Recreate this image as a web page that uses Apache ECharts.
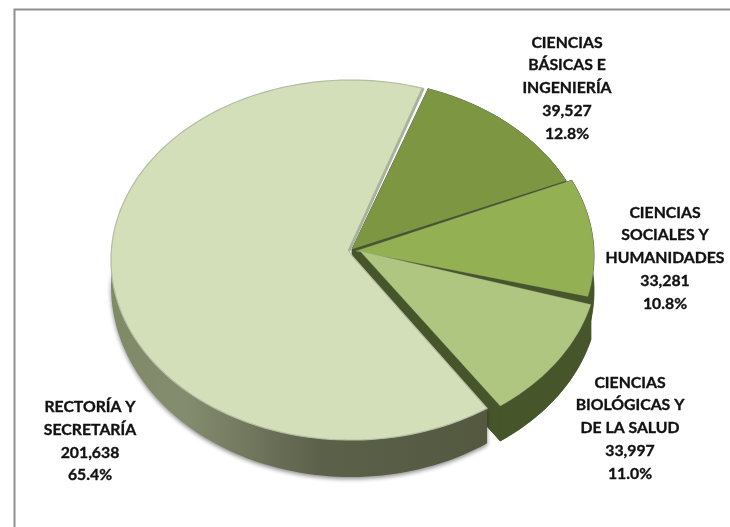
<!DOCTYPE html>
<html><head><meta charset="utf-8">
<style>html,body{margin:0;padding:0;background:#fff}#c{width:730px;height:527px}</style>
<script src="https://cdn.jsdelivr.net/npm/echarts@6/dist/echarts.min.js"></script>
</head><body><div id="c"></div>
<script>
const categories = [['CIENCIAS','BÁSICAS E','INGENIERÍA'],['CIENCIAS','SOCIALES Y','HUMANIDADES'],['CIENCIAS','BIOLÓGICAS Y','DE LA SALUD'],['RECTORÍA Y','SECRETARÍA']];
const values = [39527,33281,33997,201638];
const valueLabels = ['39,527','33,281','33,997','201,638'];
const percentLabels = ['12.8%','10.8%','11.0%','65.4%'];
const topColors = ['#7d9642','#93b053','#aec67f','#d3dfb8'];
const wallColors = ['#46562a','#46562a','#47552a','#5a5f47'];
// layout of the tilted pie (style only)
const centers = [[350,259],[354,256],[358,261],[351,260]];
const apexes = [[[352,249]],[[356,251]],[[360,251]],[[349,251],[353,257]]];
const trimsStart = [0,0,0,1.8];
const trimsEnd = [1.0,1.0,0,1.5];
const labelAnchors = [[567,88],[665,258],[630,428],[90,441]];
const RX=240, RY=180, DEPTH=35, START=19;
const total = values.reduce((a,b)=>a+b,0);
function span(i){let s=START;for(let k=0;k<i;k++)s+=values[k]/total*360;return [s+trimsStart[i],s+values[i]/total*360-trimsEnd[i]];}
function pt(i,deg){const t=deg*Math.PI/180,c=centers[i];return [c[0]+RX*Math.sin(t),c[1]-RY*Math.cos(t)];}
function arc(i,a,b){const n=Math.max(8,Math.ceil(Math.abs(b-a)/2)),o=[];for(let k=0;k<=n;k++)o.push(pt(i,a+(b-a)*k/n));return o;}
const down=p=>[p[0],p[1]+DEPTH];
const idx=values.map((_,i)=>i);
function wallItem(params,api){
  const i=api.value(0),[a,b]=span(i);
  if(i===3){
    const n=70,upper=[],lower=[];
    for(let k=0;k<=n;k++){const d=a+(272-a)*k/n,p=pt(i,d);upper.push(p);lower.unshift([p[0],p[1]+26+11*Math.abs(Math.cos(d*Math.PI/180))]);}
    return {type:'polygon',shape:{points:upper.concat(lower)},style:{
      fill:new echarts.graphic.LinearGradient(0,0,1,0,[{offset:0,color:'#7f8a66'},{offset:.2,color:'#848c6f'},{offset:.55,color:'#5c614a'},{offset:1,color:'#53583f'}],false),
      shadowColor:'rgba(0,0,0,.45)',shadowBlur:4,shadowOffsetY:2}};}
  const ar=arc(i,a,b),ap=apexes[i][0],first=ar[0],last=ar[ar.length-1];
  const faces=[
    [ap].concat(ar),
    [down(ap)].concat(ar.map(down)),
    ar.concat(ar.slice().reverse().map(down)),
    [ap,first,down(first),down(ap)],
    [ap,last,down(last),down(ap)]
  ];
  return {type:'group',children:faces.map(f=>({type:'polygon',shape:{points:f},style:{fill:wallColors[i],stroke:wallColors[i],lineWidth:.5}}))};
}
function topItem(params,api){
  const i=api.value(0),[a,b]=span(i),ar=arc(i,a,b);
  const poly={type:'polygon',shape:{points:apexes[i].concat(ar)},style:{fill:topColors[i],stroke:i===3?'#b4bca4':'rgba(150,160,130,.5)',lineWidth:i===3?1.2:.6}};
  if(i!==3) return poly;
  return {type:'group',children:[poly,{type:'polyline',shape:{points:[apexes[i][0],ar[ar.length-1]]},style:{fill:null,stroke:'#a9b39b',lineWidth:3}}]};
}
function labelItem(params,api){
  const i=api.value(0),a=labelAnchors[i];
  const lines=categories[i].concat([valueLabels[i],percentLabels[i]]);
  return {type:'text',x:a[0],y:a[1],style:{text:lines.join('\n'),fill:'#111',stroke:'#111',lineWidth:.35,font:'bold 15.8px Lato, sans-serif',lineHeight:22.8,align:'center',verticalAlign:'middle'}};
}
const chart=echarts.init(document.getElementById('c'),null,{renderer:'canvas'});
chart.setOption({
  animation:false,backgroundColor:'#fff',
  graphic:[{type:'rect',z:0,shape:{x:14.5,y:9.5,width:800,height:600},style:{fill:'#fff',stroke:'#8f8f8f',lineWidth:2}}],
  series:[
    {type:'custom',coordinateSystem:'none',z:2,data:idx.map(i=>[i]),renderItem:wallItem,silent:true},
    {type:'custom',coordinateSystem:'none',z:3,data:idx.map(i=>[i]),renderItem:topItem,silent:true},
    {type:'custom',coordinateSystem:'none',z:4,data:idx.map(i=>[i]),renderItem:labelItem,silent:true}
  ]
});
</script></body></html>
